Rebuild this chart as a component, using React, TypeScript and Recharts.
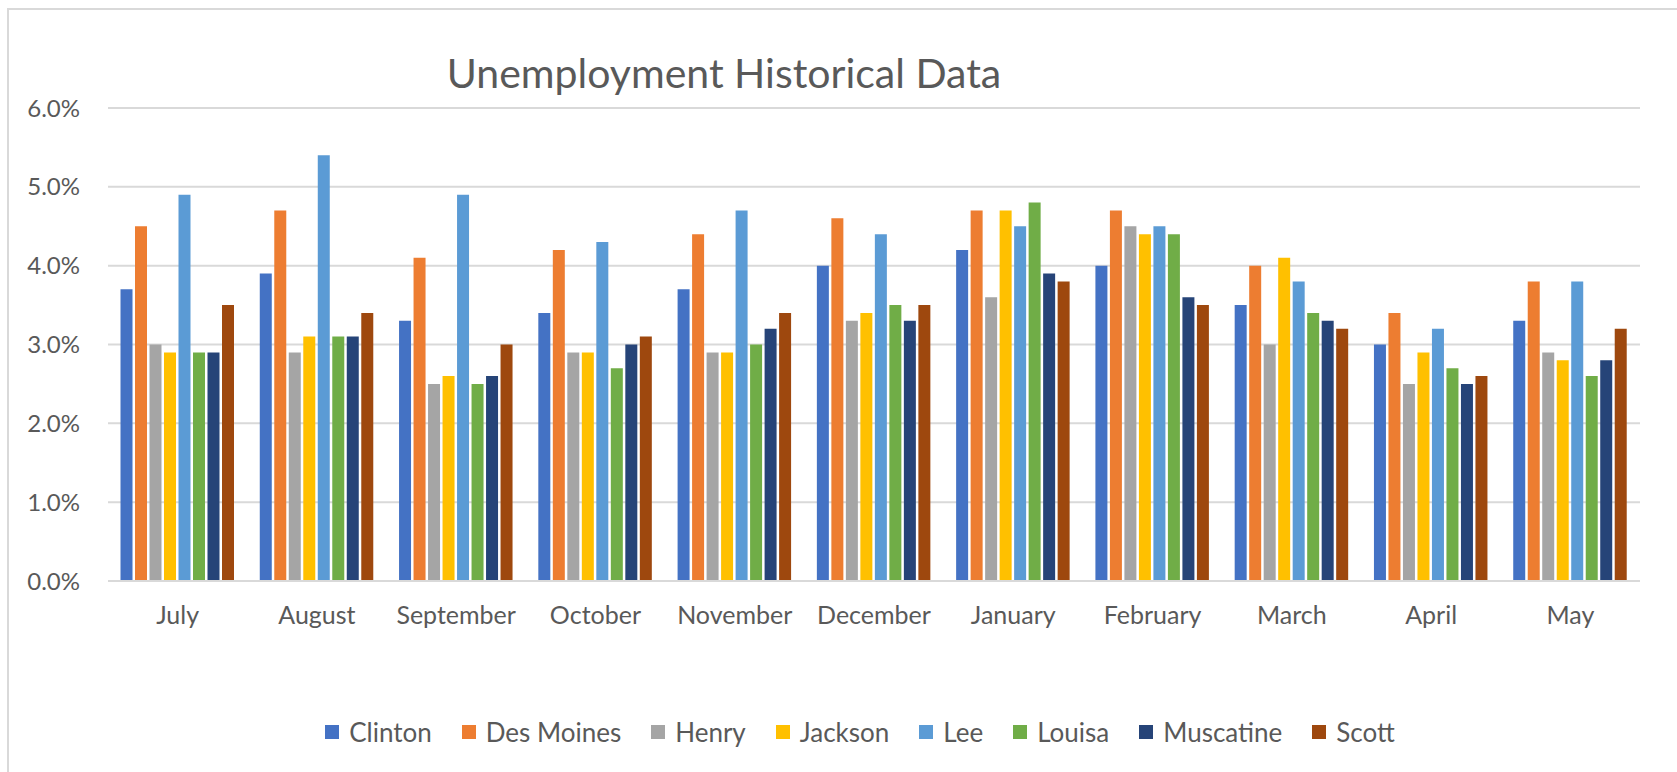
import React from 'react';
import { BarChart, Bar, XAxis, YAxis, CartesianGrid, Legend } from 'recharts';

const months = ['July', 'August', 'September', 'October', 'November', 'December', 'January', 'February', 'March', 'April', 'May'];

const clinton = [3.7, 3.9, 3.3, 3.4, 3.7, 4.0, 4.2, 4.0, 3.5, 3.0, 3.3];
const desMoines = [4.5, 4.7, 4.1, 4.2, 4.4, 4.6, 4.7, 4.7, 4.0, 3.4, 3.8];
const henry = [3.0, 2.9, 2.5, 2.9, 2.9, 3.3, 3.6, 4.5, 3.0, 2.5, 2.9];
const jackson = [2.9, 3.1, 2.6, 2.9, 2.9, 3.4, 4.7, 4.4, 4.1, 2.9, 2.8];
const lee = [4.9, 5.4, 4.9, 4.3, 4.7, 4.4, 4.5, 4.5, 3.8, 3.2, 3.8];
const louisa = [2.9, 3.1, 2.5, 2.7, 3.0, 3.5, 4.8, 4.4, 3.4, 2.7, 2.6];
const muscatine = [2.9, 3.1, 2.6, 3.0, 3.2, 3.3, 3.9, 3.6, 3.3, 2.5, 2.8];
const scott = [3.5, 3.4, 3.0, 3.1, 3.4, 3.5, 3.8, 3.5, 3.2, 2.6, 3.2];

const yTicks = [0, 1, 2, 3, 4, 5, 6];

const series = [
  { key: 'Clinton', values: clinton, color: '#4472C4' },
  { key: 'Des Moines', values: desMoines, color: '#ED7D31' },
  { key: 'Henry', values: henry, color: '#A5A5A5' },
  { key: 'Jackson', values: jackson, color: '#FFC000' },
  { key: 'Lee', values: lee, color: '#5B9BD5' },
  { key: 'Louisa', values: louisa, color: '#70AD47' },
  { key: 'Muscatine', values: muscatine, color: '#264478' },
  { key: 'Scott', values: scott, color: '#9E480E' },
];

const data = months.map((m, i) => {
  const row: Record<string, string | number> = { month: m };
  series.forEach(s => {
    row[s.key] = s.values[i];
  });
  return row;
});

const FONT = 'Lato, "Open Sans", sans-serif';
const TEXT = '#595959';

// legend drawn as one centred row under the axis
const renderLegend = () => (
  <div style={{ display: 'flex', justifyContent: 'center', fontFamily: FONT, fontSize: 26, color: TEXT }}>
    {series.map((s, i) => (
      <div key={s.key} style={{ display: 'flex', alignItems: 'center', marginLeft: i === 0 ? 0 : 30 }}>
        <span style={{ display: 'inline-block', width: 14, height: 14, background: s.color, marginRight: 10 }} />
        <span>{s.key}</span>
      </div>
    ))}
  </div>
);

const App: React.FC = () => {
  return (
    <div style={{ position: 'absolute', left: 0, top: 0, width: 1677, height: 772, background: '#fff', overflow: 'hidden' }}>
      <div
        style={{
          position: 'absolute',
          left: 7,
          top: 8,
          width: 1700,
          height: 800,
          border: '2px solid #d9d9d9',
          boxSizing: 'border-box',
        }}
      />
      <div
        style={{
          position: 'absolute',
          left: 424,
          top: 48,
          width: 600,
          textAlign: 'center',
          fontFamily: FONT,
          fontSize: 41,
          color: TEXT,
          whiteSpace: 'nowrap',
        }}
      >
        Unemployment Historical Data
      </div>
      <BarChart
        width={1677}
        height={772}
        data={data}
        margin={{ top: 108, right: 37, left: 0, bottom: 131 }}
        barCategoryGap={12.5}
        barGap={2.5}
        style={{ position: 'absolute', left: 0, top: 0 }}
      >
        <CartesianGrid vertical={false} stroke="#d9d9d9" strokeWidth={2} />
        <XAxis
          dataKey="month"
          height={60}
          tickLine={false}
          tickSize={0}
          tickMargin={25}
          axisLine={{ stroke: '#d9d9d9', strokeWidth: 2 }}
          tick={{ fill: TEXT, fontSize: 25, fontFamily: FONT }}
          interval={0}
        />
        <YAxis
          width={108}
          domain={[0, 6]}
          ticks={yTicks}
          tickFormatter={(v: number) => `${v.toFixed(1)}%`}
          axisLine={false}
          tickLine={false}
          tickSize={0}
          tickMargin={28}
          tick={{ fill: TEXT, fontSize: 24, fontFamily: FONT }}
        />
        <Legend
          verticalAlign="middle"
          align="center"
          content={renderLegend}
          wrapperStyle={{ top: 716, left: 0, width: 1720 }}
        />
        {series.map(s => (
          <Bar key={s.key} dataKey={s.key} fill={s.color} isAnimationActive={false} />
        ))}
      </BarChart>
    </div>
  );
};

export default App;
